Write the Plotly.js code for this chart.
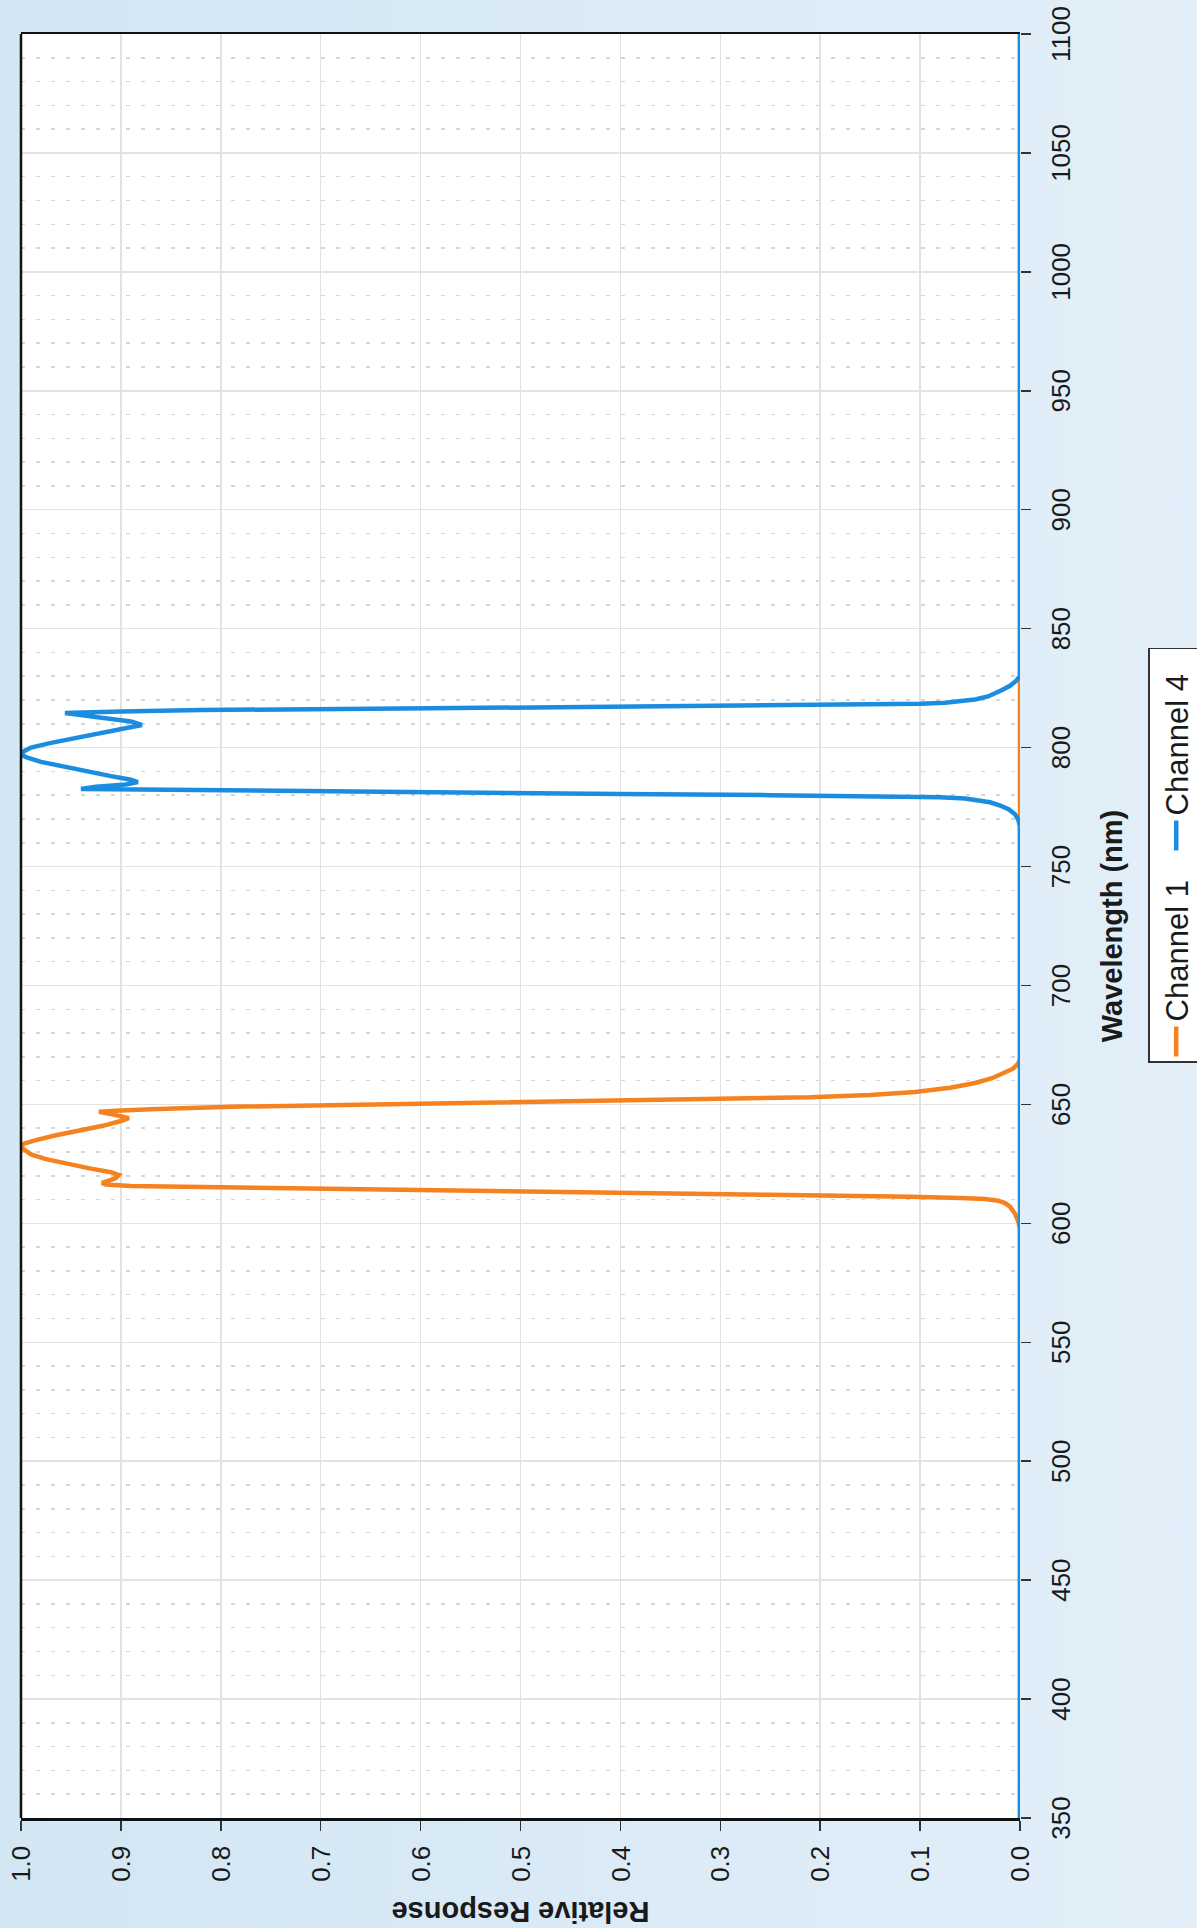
<!DOCTYPE html>
<html>
<head>
<meta charset="utf-8">
<script src="https://cdn.plot.ly/plotly-3.0.1.min.js"></script>
<style>
  html, body {
    margin: 0; padding: 0;
    width: 1197px; height: 1928px; overflow: hidden;
    background: linear-gradient(90deg, #d2e6f4 0%, #dbebf7 55%, #e2eff9 100%);
  }
  /* the chart is laid out landscape and turned a quarter turn counter-clockwise */
  #chart {
    position: absolute; left: 0; top: 0;
    width: 1928px; height: 1197px;
    transform-origin: 0 0;
    transform: translate(0, 1928px) rotate(-90deg);
  }
</style>
</head>
<body>
<div id="chart"></div>
<script>
// Channel 1 spectral response (wavelength in nm, relative response)
const ch1Wavelength = [350, 598, 601, 604, 607, 608.5, 609.5, 610.2, 610.7, 611.2, 612, 613, 614, 615, 615.7, 616.3, 617,
  618, 619, 620.3, 621.5, 623, 625, 627, 629, 631, 632, 633.5, 635, 637, 639, 641, 643, 644.2, 645.5, 646.9,
  647.3, 648, 649, 650, 651, 652, 653, 654, 655.2, 657, 659, 661, 663, 665, 667, 669, 1100];
const ch1Response = [0, 0, 0.002, 0.005, 0.010, 0.015, 0.022, 0.035, 0.06, 0.11, 0.25, 0.43, 0.61, 0.78, 0.89, 0.915, 0.919,
  0.912, 0.905, 0.902, 0.91, 0.93, 0.955, 0.975, 0.99, 0.998, 1.0, 0.997, 0.985, 0.965, 0.94, 0.918, 0.90, 0.892, 0.905, 0.922,
  0.905, 0.87, 0.79, 0.64, 0.47, 0.31, 0.21, 0.15, 0.105, 0.07, 0.045, 0.028, 0.016, 0.007, 0.002, 0, 0];

// Channel 4 spectral response
const ch4Wavelength = [350, 767, 770, 772, 774, 775.5, 777, 778, 778.6, 779.1, 779.5, 780, 780.5, 781, 781.5, 782, 782.6,
  783.5, 784.5, 785.5, 786.5, 788, 790, 792, 794, 796, 797, 798.5, 800, 802, 804, 806, 808, 809.5, 811, 813, 814.5,
  815.2, 815.8, 816.5, 817, 817.5, 818, 818.4, 818.9, 819.5, 820.2, 821.5, 823, 824.2, 826, 828, 830, 1100];
const ch4Response = [0, 0, 0.002, 0.005, 0.011, 0.019, 0.03, 0.042, 0.055, 0.08, 0.13, 0.25, 0.40, 0.56, 0.72, 0.86, 0.94,
  0.925, 0.895, 0.883, 0.89, 0.91, 0.935, 0.96, 0.98, 0.995, 1.0, 0.997, 0.99, 0.97, 0.945, 0.92, 0.895, 0.879, 0.89, 0.925, 0.956,
  0.90, 0.82, 0.59, 0.43, 0.26, 0.14, 0.10, 0.075, 0.058, 0.045, 0.032, 0.023, 0.018, 0.01, 0.004, 0, 0];

const seriesNames = ['Channel 1', 'Channel 4'];
const seriesColors = ['#f5821f', '#1b8de0'];

const font = 'Liberation Sans, Arial, Helvetica, sans-serif';

const traces = [
  { x: ch1Wavelength, y: ch1Response, name: seriesNames[0], type: 'scatter', mode: 'lines',
    line: { color: seriesColors[0], width: 4.5 } },
  { x: ch4Wavelength, y: ch4Response, name: seriesNames[1], type: 'scatter', mode: 'lines',
    line: { color: seriesColors[1], width: 4.5 } }
];

const layout = {
  width: 1928, height: 1197,
  margin: { l: 110, r: 34, t: 21, b: 177, autoexpand: false },
  paper_bgcolor: 'rgba(0,0,0,0)',
  plot_bgcolor: '#ffffff',
  font: { family: font, color: '#1a1a1a' },
  showlegend: true,
  legend: {
    orientation: 'h',
    xref: 'container', yref: 'container',
    x: 0.4487, xanchor: 'left', y: 0.0409, yanchor: 'top',
    bgcolor: '#ffffff', bordercolor: '#333333', borderwidth: 1.5,
    font: { family: font, size: 31, color: '#1a1a1a' },
    itemwidth: 30,
    entrywidth: 161
  },
  xaxis: {
    range: [350, 1100], tick0: 350, dtick: 50,
    automargin: false,
    ticks: 'outside', ticklen: 10, tickwidth: 1.5, tickcolor: '#333',
    ticklabelstandoff: 8,
    showline: false, zeroline: false,
    showgrid: true, gridcolor: '#e2e2e2', gridwidth: 1.5,
    minor: { dtick: 10, showgrid: true, gridcolor: '#d6d6d6', gridwidth: 1.5, griddash: '4px,11px', ticks: '' },
    tickfont: { family: font, size: 26, color: '#1a1a1a' },
    title: { text: 'Wavelength (nm)', standoff: 26, font: { family: font, size: 29, weight: 'bold', color: '#1a1a1a' } }
  },
  yaxis: {
    range: [0, 1], dtick: 0.1, tickformat: '.1f',
    automargin: false,
    ticks: 'outside', ticklen: 10, tickwidth: 1.5, tickcolor: '#333',
    ticklabelstandoff: 10,
    showline: true, mirror: true, linecolor: '#111111', linewidth: 2.5,
    zeroline: false,
    showgrid: true, gridcolor: '#e2e2e2', gridwidth: 1.5,
    tickfont: { family: font, size: 26, color: '#1a1a1a' },
    title: { text: 'Relative Response', standoff: 12, font: { family: font, size: 29, weight: 'bold', color: '#1a1a1a' } }
  },
  shapes: [
    // upper frame edge of the plotting area
    { type: 'line', xref: 'paper', yref: 'paper', x0: 0, x1: 1, y0: 1, y1: 1,
      line: { color: '#111111', width: 2.5 } }
  ]
};

Plotly.newPlot('chart', traces, layout, { staticPlot: true, displayModeBar: false });
</script>
</body>
</html>
